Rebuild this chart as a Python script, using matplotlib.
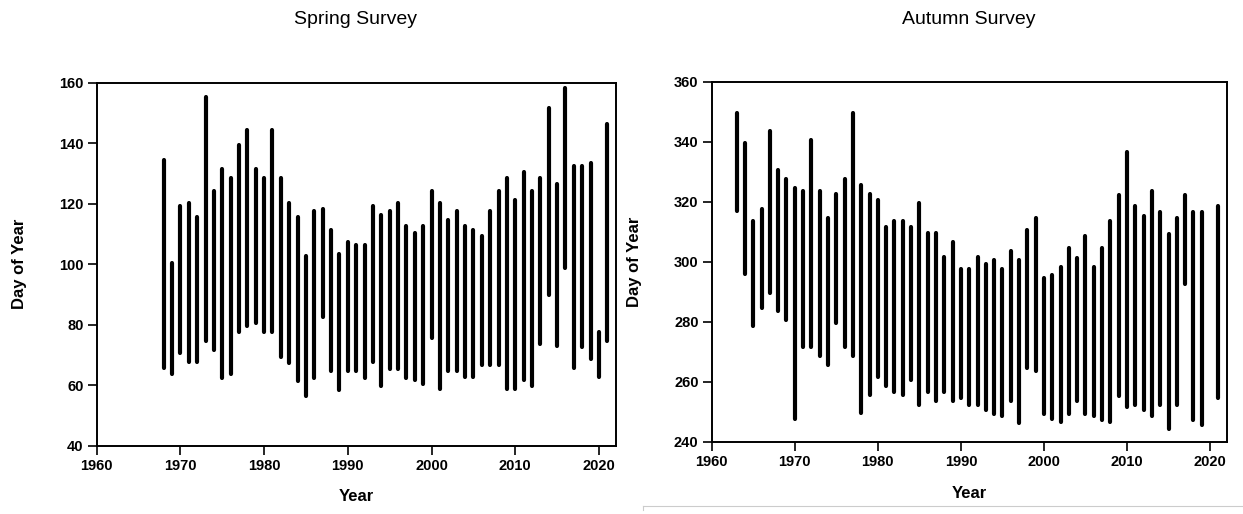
import matplotlib
matplotlib.use("Agg")
import matplotlib.pyplot as plt
from matplotlib.lines import Line2D

plt.rcParams["font.family"] = ["Liberation Sans", "DejaVu Sans"]

# Spring survey: first and last survey day for each year
spring_years = list(range(1968, 2022))
spring_start = [65.7, 63.7, 70.6, 67.7, 67.7, 74.5, 71.6, 62.4, 63.7, 77.6,
                79.5, 80.6, 77.6, 77.6, 69.4, 67.3, 61.5, 56.3, 62.4, 82.5,
                64.6, 58.5, 64.6, 64.6, 62.4, 67.7, 59.6, 65.3, 65.3, 62.4,
                61.6, 60.5, 75.6, 58.7, 64.8, 64.8, 62.6, 62.6, 66.8, 66.8,
                66.8, 58.7, 58.7, 61.8, 59.6, 73.6, 89.7, 72.8, 98.7, 65.5,
                72.6, 68.7, 62.6, 74.7]
spring_end = [134.5, 100.4, 119.3, 120.4, 115.5, 155.5, 124.4, 131.5, 128.5, 139.5,
              144.5, 131.5, 128.5, 144.5, 128.5, 120.4, 115.5, 102.6, 117.5, 118.3,
              111.4, 103.5, 107.5, 106.4, 106.4, 119.3, 116.4, 117.5, 120.4, 112.5,
              110.4, 112.5, 124.4, 120.4, 114.5, 117.5, 112.5, 111.4, 109.4, 117.5,
              124.4, 128.5, 121.3, 130.5, 124.4, 128.5, 151.6, 126.6, 158.4, 132.6,
              132.6, 133.5, 77.5, 146.4]

# Autumn survey: no survey in 2020
autumn_years = list(range(1963, 2020)) + [2021]
autumn_start = [316.9, 295.8, 278.7, 284.6, 289.6, 283.7, 280.7, 247.6, 271.4, 271.4,
                268.4, 265.7, 279.6, 271.4, 268.4, 249.5, 255.4, 261.4, 258.4, 256.4,
                255.4, 260.6, 252.3, 256.4, 253.4, 256.4, 253.4, 254.5, 252.3, 252.3,
                250.4, 249.3, 248.4, 253.4, 246.1, 264.5, 263.6, 249.3, 247.5, 246.4,
                249.3, 253.4, 249.3, 248.4, 247.3, 246.4, 255.3, 251.4, 252.3, 250.4,
                248.4, 252.3, 244.2, 252.3, 292.4, 247.3, 245.4, 254.5]
autumn_end = [349.6, 339.6, 313.6, 317.5, 343.7, 330.5, 327.5, 324.5, 323.6, 340.6,
              323.6, 314.5, 322.5, 327.5, 349.6, 325.5, 322.5, 320.5, 311.6, 313.6,
              313.6, 311.6, 319.5, 309.4, 309.4, 301.5, 306.4, 297.4, 297.4, 301.5,
              299.3, 300.4, 297.4, 303.5, 300.4, 310.6, 314.5, 294.4, 295.4, 298.3,
              304.4, 301.3, 308.4, 298.3, 304.4, 313.4, 322.3, 336.5, 318.4, 315.3,
              323.4, 316.4, 309.1, 314.4, 322.3, 316.4, 316.4, 318.4]

year_ticks = [1960, 1970, 1980, 1990, 2000, 2010, 2020]
spring_yticks = [40, 60, 80, 100, 120, 140, 160]
autumn_yticks = [240, 260, 280, 300, 320, 340, 360]

W, H = 1243, 514
fig = plt.figure(figsize=(W / 100, H / 100), dpi=100)


def axes_px(x0, y0, x1, y1):
    return fig.add_axes([x0 / W, 1 - y1 / H, (x1 - x0) / W, (y1 - y0) / H])


def style(ax, yticks, xlab_y, ylab_x):
    ax.set_xlim(1960, 2022)
    ax.set_ylim(yticks[0], yticks[-1])
    ax.set_xticks(year_ticks)
    ax.set_yticks(yticks)
    for s in ax.spines.values():
        s.set_linewidth(1.4)
        s.set_color("black")
    ax.tick_params(direction="out", length=6.5, width=1.2, pad=3,
                   labelsize=10.5, colors="black")
    for lab in ax.get_xticklabels() + ax.get_yticklabels():
        lab.set_fontweight("bold")
    ax.set_xlabel("Year", fontsize=12, fontweight="bold")
    ax.set_ylabel("Day of Year", fontsize=12, fontweight="bold")
    ax.xaxis.set_label_coords(0.5, xlab_y)
    ax.yaxis.set_label_coords(ylab_x, 0.5)
    ax.xaxis.label.set_va("center")
    ax.yaxis.label.set_va("center")


ax1 = axes_px(96.7, 83, 615.7, 445.5)
lc = ax1.vlines(spring_years, spring_start, spring_end, colors="black", linewidth=3.0)
lc.set_capstyle("round")
style(ax1, spring_yticks, -0.142, -0.148)

ax2 = axes_px(711.7, 81.7, 1226.7, 441.7)
lc = ax2.vlines(autumn_years, autumn_start, autumn_end, colors="black", linewidth=3.0)
lc.set_capstyle("round")
style(ax2, autumn_yticks, -0.1425, -0.149)

fig.text(356 / W, 1 - 20 / H, "Spring Survey", ha="center", va="center", fontsize=14)
fig.text(969 / W, 1 - 20 / H, "Autumn Survey", ha="center", va="center", fontsize=14)

# thin page rule along the lower right
fig.add_artist(Line2D([643 / W, 1], [1 - 506 / H, 1 - 506 / H], color="#cccccc", linewidth=0.8))
fig.add_artist(Line2D([643 / W, 643 / W], [1 - 506 / H, 1 - 510 / H], color="#cccccc", linewidth=0.8))

fig.savefig("out.png", dpi=100)
